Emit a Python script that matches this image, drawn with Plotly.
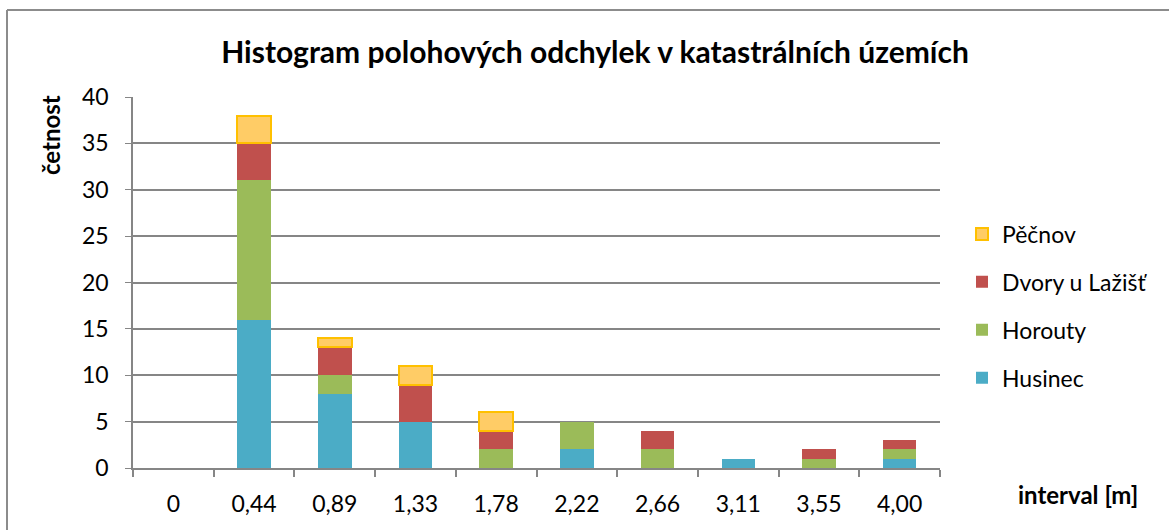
import plotly.graph_objects as go

# interval boundaries [m] and counts per cadastral area
intervals = ["0", "0,44", "0,89", "1,33", "1,78", "2,22", "2,66", "3,11", "3,55", "4,00"]
husinec = [0, 16, 8, 5, 0, 2, 0, 1, 0, 1]
horouty = [0, 15, 2, 0, 2, 3, 2, 0, 1, 1]
dvory = [0, 4, 3, 4, 2, 0, 2, 0, 1, 1]
pecnov = [0, 3, 1, 2, 2, 0, 0, 0, 0, 0]

FONT = "Lato"
FS = 23
series = [
    ("Husinec", husinec, "#4BACC6", None, 4),
    ("Horouty", horouty, "#9BBB59", None, 3),
    ("Dvory u Lažišť", dvory, "#C0504D", None, 2),
    ("Pěčnov", pecnov, "#FFCC66", "#FFC000", 1),
]

fig = go.Figure()
for name, vals, fill, edge, rank in series:
    # empty segments are left out so that no outline is drawn at zero height
    fig.add_trace(go.Bar(
        x=intervals, y=[v if v else None for v in vals],
        name=name, legendgroup=name, legendrank=rank,
        marker=dict(color=fill,
                    line=dict(color=edge or fill, width=2 if edge else 0)),
    ))

L, R, T, B = 133, 940, 97, 468
W, H = 1169, 530

fig.update_layout(
    width=W, height=H,
    barmode="stack", bargap=0.585,
    plot_bgcolor="white", paper_bgcolor="white",
    margin=dict(l=L, r=W - R, t=T, b=H - B),
    font=dict(family=FONT, size=FS, color="#000000"),
    title=dict(text="Histogram polohových odchylek v katastrálních územích",
               x=595 / W, xanchor="center", y=1 - 52 / H, yanchor="middle",
               font=dict(family=FONT, size=30, weight="bold", color="#000000")),
    legend=dict(x=(962 - L) / (R - L), xanchor="left",
                y=(B - 306) / (B - T), yanchor="middle",
                traceorder="grouped", tracegroupgap=15,
                font=dict(family=FONT, size=FS), itemwidth=30,
                bgcolor="rgba(0,0,0,0)"),
    showlegend=True,
)

fig.update_xaxes(
    type="category", showgrid=False,
    showline=True, linecolor="#868686", linewidth=2,
    ticks="outside", ticklen=7, tickcolor="#868686", tickwidth=2,
    tickson="boundaries", ticklabelstandoff=14,
    tickfont=dict(family=FONT, size=FS),
)
fig.update_yaxes(
    range=[0, 40], dtick=5,
    showgrid=True, gridcolor="#868686", gridwidth=1.5,
    showline=True, linecolor="#868686", linewidth=1.5,
    ticks="outside", ticklen=6, tickcolor="#868686",
    tickfont=dict(family=FONT, size=FS), ticklabelstandoff=12,
    zeroline=False,
)

# axis titles placed as in the chart
fig.add_annotation(text="<b>četnost</b>", textangle=-90,
                   xref="paper", yref="paper",
                   x=(50 - L) / (R - L), y=(B - 135) / (B - T),
                   showarrow=False, font=dict(family=FONT, size=24),
                   xanchor="center", yanchor="middle")
fig.add_annotation(text="<b>interval [m]</b>",
                   xref="paper", yref="paper",
                   x=(1078 - L) / (R - L), y=(B - 494) / (B - T),
                   showarrow=False, font=dict(family=FONT, size=24),
                   xanchor="center", yanchor="middle")

# chart-area frame (top and left edges visible)
fig.add_shape(type="line", xref="paper", yref="paper",
              x0=(7 - L) / (R - L), x1=(W + 5 - L) / (R - L),
              y0=(B - 10) / (B - T), y1=(B - 10) / (B - T),
              line=dict(color="#8c8c8c", width=2))
fig.add_shape(type="line", xref="paper", yref="paper",
              x0=(7 - L) / (R - L), x1=(7 - L) / (R - L),
              y0=(B - 10) / (B - T), y1=(B - H - 5) / (B - T),
              line=dict(color="#8c8c8c", width=2))

fig.write_html("out.html")
